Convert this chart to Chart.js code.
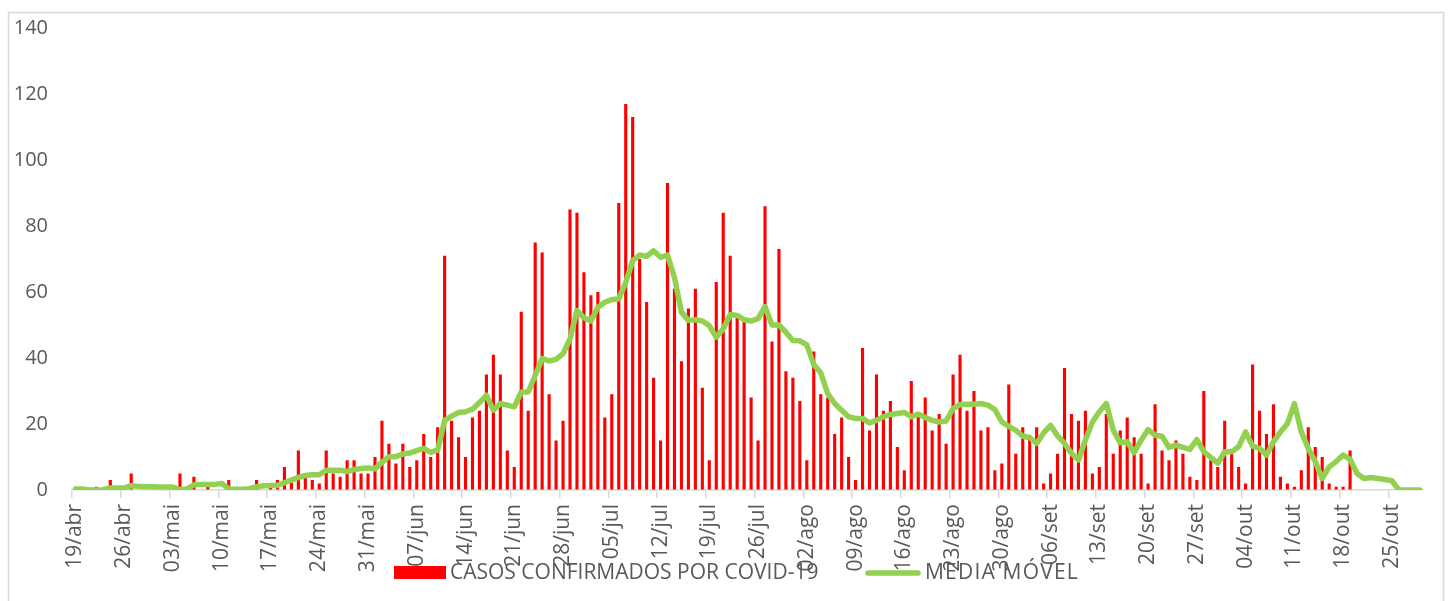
<!DOCTYPE html>
<html><head><meta charset="utf-8">
<script src="https://cdn.jsdelivr.net/npm/chart.js@4/dist/chart.umd.min.js"></script>
<style>html,body{margin:0;padding:0;background:#fff}#wrap{position:relative;width:1451px;height:601px}</style>
</head><body><div id="wrap"><canvas id="c" width="1451" height="601"></canvas></div>
<script>
const categories = [
'19/abr','20/abr','21/abr','22/abr','23/abr','24/abr','25/abr','26/abr','27/abr','28/abr','29/abr','30/abr',
'01/mai','02/mai','03/mai','04/mai','05/mai','06/mai','07/mai','08/mai','09/mai','10/mai','11/mai','12/mai','13/mai','14/mai','15/mai','16/mai','17/mai','18/mai','19/mai','20/mai','21/mai','22/mai','23/mai','24/mai','25/mai','26/mai','27/mai','28/mai','29/mai','30/mai','31/mai',
'01/jun','02/jun','03/jun','04/jun','05/jun','06/jun','07/jun','08/jun','09/jun','10/jun','11/jun','12/jun','13/jun','14/jun','15/jun','16/jun','17/jun','18/jun','19/jun','20/jun','21/jun','22/jun','23/jun','24/jun','25/jun','26/jun','27/jun','28/jun','29/jun','30/jun',
'01/jul','02/jul','03/jul','04/jul','05/jul','06/jul','07/jul','08/jul','09/jul','10/jul','11/jul','12/jul','13/jul','14/jul','15/jul','16/jul','17/jul','18/jul','19/jul','20/jul','21/jul','22/jul','23/jul','24/jul','25/jul','26/jul','27/jul','28/jul','29/jul','30/jul','31/jul',
'01/ago','02/ago','03/ago','04/ago','05/ago','06/ago','07/ago','08/ago','09/ago','10/ago','11/ago','12/ago','13/ago','14/ago','15/ago','16/ago','17/ago','18/ago','19/ago','20/ago','21/ago','22/ago','23/ago','24/ago','25/ago','26/ago','27/ago','28/ago','29/ago','30/ago','31/ago',
'01/set','02/set','03/set','04/set','05/set','06/set','07/set','08/set','09/set','10/set','11/set','12/set','13/set','14/set','15/set','16/set','17/set','18/set','19/set','20/set','21/set','22/set','23/set','24/set','25/set','26/set','27/set','28/set','29/set','30/set',
'01/out','02/out','03/out','04/out','05/out','06/out','07/out','08/out','09/out','10/out','11/out','12/out','13/out','14/out','15/out','16/out','17/out','18/out','19/out','20/out','21/out','22/out','23/out','24/out','25/out','26/out','27/out','28/out','29/out'
];

const tickLabels = ['19/abr','26/abr','03/mai','10/mai','17/mai','24/mai','31/mai','07/jun','14/jun','21/jun','28/jun',
'05/jul','12/jul','19/jul','26/jul','02/ago','09/ago','16/ago','23/ago','30/ago','06/set','13/set','20/set','27/set',
'04/out','11/out','18/out','25/out'];

const casosConfirmados = [
0,0,0,1,0,3,0,
0,5,0,0,0,0,0,
0,5,1,4,0,1,0,
0,3,0,0,1,3,0,
1,3,7,3,12,4,3,
2,12,5,4,9,9,5,
5,10,21,14,8,14,7,
9,17,10,19,71,21,16,
10,22,24,35,41,35,12,
7,54,24,75,72,29,15,
21,85,84,66,59,60,22,
29,87,117,113,70,57,34,
15,93,61,39,55,61,31,
9,63,84,71,53,51,28,
15,86,45,73,36,34,27,
9,42,29,28,17,22,10,
3,43,18,35,24,27,13,
6,33,23,28,18,23,14,
35,41,24,30,18,19,6,
8,32,11,19,16,19,2,
5,11,37,23,21,24,5,
7,23,11,18,22,16,11,
2,26,12,9,15,11,4,
3,30,9,7,21,11,7,
2,38,24,17,26,4,2,
1,6,19,13,10,2,1,
1,12,0,0,0,0,0,
0,0,0,0,0
];

const mediaMovel = [
0.3,0.3,0,0,0.1,0.6,0.6,
0.6,1.3,1.1,1.0,1.0,0.9,0.9,
0.9,0.1,0.3,1.6,1.7,1.7,1.7,
2.0,0.3,0.2,0.2,0.4,1.0,1.3,
1.4,1.4,2.2,3.0,3.8,4.4,4.6,
4.6,6.0,6.0,6.0,5.6,6.2,6.5,
6.7,6.4,8.4,10.1,10.1,10.9,11.2,
11.9,12.6,11.4,12.1,21.1,22.4,23.5,
23.7,24.5,26.5,28.7,24.2,26.2,25.7,
25.2,29.7,29.7,34.7,39.8,39.1,39.6,
41.3,45.8,54.4,52.2,51.2,55.4,56.9,
57.7,57.9,62.9,69.5,71.2,70.8,72.5,
70.5,71.2,64.4,53.9,51.4,51.6,51.2,
49.8,46.3,48.8,53.2,52.9,51.6,51.2,
51.9,55.6,50,50,47.8,45.3,45.2,
44,38,35.5,29.2,26.2,24.2,22.2,
21.7,21.7,20.3,21.1,22.2,22.9,23.2,
23.5,22.2,23,22,21.1,20.6,20.9,
24.7,25.9,26,26,26.2,25.7,24.4,
20.6,19.3,18.1,16.3,15.9,14.1,17.3,
19.6,16.4,14.1,11.1,9.1,15.1,20.6,
23.7,26.2,18.1,14.3,14.6,11.3,15.1,
18.3,16.6,16.3,12.9,13.6,12.9,12.3,
15.3,11.6,9.9,8.1,11.6,11.6,13.1,
17.6,13.3,12.6,10.6,14.6,17.6,20.1,
26.2,17.6,12.6,8.6,3.5,7,8.6,
10.6,9.3,5,3.5,3.8,3.5,3.2,
2.8,0,0,0,0
];

const seriesNames = ['CASOS CONFIRMADOS POR COVID-19', 'MEDIA MÓVEL'];
const yMin = 0, yMax = 140, yStep = 20;

const FONT = '"Open Sans", "DejaVu Sans", sans-serif';
const TEXT = '#595959';
const AXIS = '#d9d9d9';

const frameAndLegend = {
  id: 'frameAndLegend',
  beforeDraw(chart) {
    const ctx = chart.ctx;
    ctx.save();
    ctx.fillStyle = '#ffffff';
    ctx.fillRect(0, 0, chart.width, chart.height);
    ctx.restore();
  },
  afterDraw(chart) {
    const ctx = chart.ctx;
    const ds = chart.data.datasets;
    ctx.save();
    ctx.strokeStyle = AXIS;
    ctx.lineWidth = 1.5;
    ctx.strokeRect(8.5, 12.5, 1435, 600);
    ctx.font = '21px ' + FONT;
    ctx.textBaseline = 'middle';
    ctx.textAlign = 'left';
    ctx.fillStyle = ds[0].backgroundColor;
    ctx.fillRect(394, 566, 52, 13);
    ctx.fillStyle = TEXT;
    ctx.fillText(ds[0].label, 450, 573);
    ctx.strokeStyle = ds[1].borderColor;
    ctx.lineWidth = 5.5;
    ctx.lineCap = 'round';
    ctx.beginPath();
    ctx.moveTo(868, 573);
    ctx.lineTo(918, 573);
    ctx.stroke();
    ctx.fillStyle = TEXT;
    try { ctx.letterSpacing = '1.2px'; } catch (e) {}
    ctx.fillText(ds[1].label, 925, 573);
    ctx.restore();
  }
};

function draw() {
  new Chart(document.getElementById('c'), {
    type: 'bar',
    data: {
      labels: categories,
      datasets: [
        {
          type: 'bar',
          label: seriesNames[0],
          data: casosConfirmados,
          backgroundColor: '#ff0000',
          barPercentage: 0.45,
          categoryPercentage: 1.0,
          order: 2
        },
        {
          type: 'line',
          label: seriesNames[1],
          data: mediaMovel,
          borderColor: '#92d050',
          borderWidth: 5.5,
          pointRadius: 0,
          tension: 0,
          borderCapStyle: 'round',
          borderJoinStyle: 'round',
          fill: false,
          order: 1
        }
      ]
    },
    options: {
      responsive: false,
      devicePixelRatio: 1,
      animation: false,
      layout: { padding: { top: 28, left: 12, right: 27, bottom: 0 } },
      plugins: { legend: { display: false }, tooltip: { enabled: false } },
      scales: {
        x: {
          offset: true,
          grid: {
            display: true,
            drawOnChartArea: false,
            drawTicks: true,
            tickLength: 8,
            offset: true,
            lineWidth: 1.5,
            color: (c) => (tickLabels.includes(categories[c.index]) ? AXIS : 'rgba(0,0,0,0)')
          },
          border: { display: true, color: AXIS, width: 1.5 },
          ticks: {
            autoSkip: false,
            maxRotation: 90,
            minRotation: 90,
            padding: 6,
            color: TEXT,
            font: { family: FONT, size: 21 },
            callback: function (v, i) {
              const l = categories[i];
              return tickLabels.includes(l) ? l : '';
            }
          },
          afterFit: (s) => { s.height = 111; }
        },
        y: {
          min: yMin,
          max: yMax,
          grid: {
            display: true,
            drawOnChartArea: false,
            drawTicks: true,
            tickLength: 18,
            color: 'rgba(0,0,0,0)'
          },
          border: { display: false },
          ticks: {
            stepSize: yStep,
            padding: 6,
            color: TEXT,
            font: { family: FONT, size: 20 }
          },
          afterFit: (s) => { s.width = 60; }
        }
      }
    },
    plugins: [frameAndLegend]
  });
}

if (document.fonts && document.fonts.load) {
  document.fonts.load('20px "Open Sans"').then(draw, draw);
} else {
  draw();
}
</script>
</body></html>
